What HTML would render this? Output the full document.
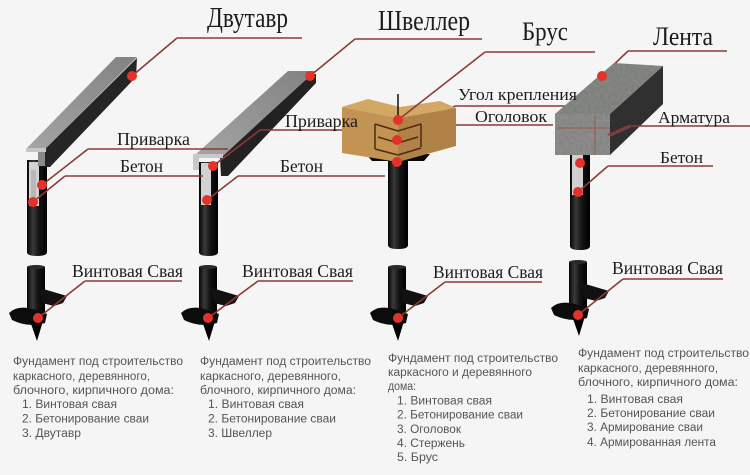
<!DOCTYPE html>
<html><head><meta charset="utf-8">
<style>
html,body{margin:0;padding:0;background:#f5f5f5;}
svg{display:block;}
.t{font-family:"Liberation Serif","Noto Serif CJK SC",serif;fill:#1c1c1c;}
.d{font-family:"Liberation Sans","Noto Sans CJK SC",sans-serif;fill:#555;font-size:11.5px;}
</style></head><body>
<svg width="750" height="475" viewBox="0 0 750 475" xmlns="http://www.w3.org/2000/svg">
<defs>
<linearGradient id="pg" x1="0" x2="1" y1="0" y2="0">
<stop offset="0" stop-color="#050505"/><stop offset="0.3" stop-color="#3a3a3a"/><stop offset="0.6" stop-color="#141414"/><stop offset="1" stop-color="#000"/>
</linearGradient>
<linearGradient id="fl" x1="0" x2="1" y1="1" y2="0">
<stop offset="0" stop-color="#a4a4a4"/><stop offset="1" stop-color="#828282"/>
</linearGradient>
<filter id="nz" x="0" y="0" width="1" height="1">
<feTurbulence type="fractalNoise" baseFrequency="0.35" numOctaves="2" seed="3" result="n"/>
<feColorMatrix in="n" type="matrix" values="0 0 0 0 0.45  0 0 0 0 0.45  0 0 0 0 0.44  0 0 0 0.5 0" result="c"/>
<feComposite in="c" in2="SourceGraphic" operator="in" result="m"/>
<feBlend in="m" in2="SourceGraphic" mode="multiply"/>
</filter>
<g id="screw">
<rect x="-9" y="0" width="18" height="54" fill="url(#pg)"/>
<ellipse cx="0" cy="0" rx="9" ry="2" fill="#2a2a2a"/>
<path d="M4,21 L31,29 L27,36 L18,39 L6,36 Z" fill="#111"/>
<path d="M-27,46 Q-18,37 0,43 L11,47 L9,56 Q-8,61 -24,53 Z" fill="#0c0c0c"/>
<path d="M-6,54 L7,54 L1,74 Z" fill="#000"/>
</g>
</defs>
<rect width="750" height="475" fill="#f5f5f5"/>

<!-- Column 1: I-beam -->
<path d="M27,160 h20 v92 q0,4 -10,4 q-10,0 -10,-4 z" fill="url(#pg)"/>
<rect x="29" y="162" width="10" height="44" fill="#d2d2d2"/>
<rect x="31" y="170" width="5" height="30" fill="#b8b8b8"/>
<polygon points="44,150 137,58 136,77 50,167 44,167" fill="#252525"/>
<polygon points="27,148 116,57 137,57 46,148" fill="url(#fl)"/>
<polygon points="26,148 46,148 46,152 26,152" fill="#c6c6c6"/>
<rect x="38" y="152" width="7" height="14" fill="#8a8a8a"/>

<!-- Column 2: channel -->
<path d="M199,162 h19 v90 q0,4 -9.5,4 q-9.5,0 -9.5,-4 z" fill="url(#pg)"/>
<rect x="201" y="163" width="10" height="42" fill="#d2d2d2"/>
<polygon points="220,158 312,74 316,74 316,83 228,176 221,176" fill="#222"/>
<polygon points="195,155 288,71 315,71 222,157" fill="url(#fl)"/>
<path d="M193,154 h30 v4 h-24 v12 h-6 z" fill="#c8c8c8"/>

<!-- Column 4: pile -->
<path d="M570,150 h20 v96 q0,4 -10,4 q-10,0 -10,-4 z" fill="url(#pg)"/>
<rect x="572" y="155" width="11" height="40" fill="#d0d0d0"/>

<!-- Column 3: pile + cap -->
<path d="M388,160 h20 v85 q0,4 -10,4 q-10,0 -10,-4 z" fill="url(#pg)"/>
<path d="M366,154 L430,154 L424,161 L372,161 Z" fill="#0a0a0a"/>

<!-- lower screw piles -->
<use href="#screw" x="36" y="267"/>
<use href="#screw" x="208" y="267"/>
<use href="#screw" x="397" y="267"/>
<use href="#screw" x="578" y="262"/>

<!-- connectors -->
<g stroke="#8c3b36" stroke-width="1.6" fill="none">
<path d="M177,38 H302 M177,38 L132,76"/>
<path d="M88,149 H228 M88,149 L42,185"/>
<path d="M65,176 H203 M65,176 L33,202"/>
<path d="M85,281 H182 M85,281 L38,318"/>
<path d="M355,39 H482 M355,39 L310,76"/>
<path d="M260,130 H378 M260,130 L213,166"/>
<path d="M238,176 H385 M238,176 L207,200"/>
<path d="M258,281 H353 M258,281 L208,318"/>
<path d="M455,106 H582 M455,106 L397,140"/>
<path d="M422,125 H553 M422,125 L397,162"/>
<path d="M445,282 H542 M445,282 L398,318"/>
<path d="M628,51 H727 M628,51 L602,76"/>
<path d="M608,166 H713 M608,166 L578,192"/>
<path d="M623,279 H723 M623,279 L578,315"/>
</g>

<!-- wood block -->
<polygon points="342,107 368,99 400,107 440,101 456,108 398,118" fill="#d2a864"/>
<polygon points="342,107 398,118 398,162 342,153" fill="#c39354"/>
<polygon points="398,118 456,108 456,146 398,162" fill="#b18248"/>
<g stroke="#4a2a10" stroke-width="1.5" fill="none">
<path d="M375,124 L398,131 L421,124"/>
<path d="M375,124 V149 M421,124 V147"/>
<path d="M378,137 L398,143 L418,137"/>
<path d="M375,149 L398,155 L421,148"/>
</g>
<line x1="398" y1="94" x2="398" y2="119" stroke="#111" stroke-width="1.5"/>

<!-- concrete block -->
<polygon points="555,114 614,63 663,66 610,114" fill="#8a8c88" filter="url(#nz)"/>
<polygon points="555,114 610,114 610,155 555,155" fill="#929290" filter="url(#nz)"/>
<polygon points="610,114 663,66 663,104 610,155" fill="#303030"/>
<g stroke="#a0554c" stroke-width="1.2" fill="none" opacity="0.8">
<path d="M557,128 H610"/><path d="M595,116 V155"/><path d="M610,136 L630,127"/>
</g>

<g stroke="#8c3b36" stroke-width="1.6" fill="none">
<path d="M485,52 H595 M485,52 L398,120"/>
<path d="M628,126 H750 M628,126 L608,135"/>
</g>

<!-- dots -->
<g fill="#e4322b">
<circle cx="132" cy="76" r="5"/><circle cx="42" cy="185" r="5"/><circle cx="33" cy="202" r="5"/><circle cx="38" cy="318" r="5"/>
<circle cx="310" cy="76" r="5"/><circle cx="213" cy="166" r="5"/><circle cx="207" cy="200" r="5"/><circle cx="208" cy="318" r="5"/>
<circle cx="398" cy="120" r="5"/><circle cx="397" cy="140" r="5"/><circle cx="397" cy="162" r="5"/><circle cx="398" cy="318" r="5"/>
<circle cx="602" cy="76" r="5"/><circle cx="580" cy="163" r="5"/><circle cx="578" cy="192" r="5"/><circle cx="578" cy="315" r="5"/>
</g>

<!-- labels -->
<text class="t" x="207" y="27" font-size="29" textLength="81" lengthAdjust="spacingAndGlyphs">Двутавр</text>
<text class="t" x="378" y="30" font-size="28" textLength="92" lengthAdjust="spacingAndGlyphs">Швеллер</text>
<text class="t" x="522" y="40" font-size="26" textLength="46" lengthAdjust="spacingAndGlyphs">Брус</text>
<text class="t" x="653" y="45" font-size="26" textLength="60" lengthAdjust="spacingAndGlyphs">Лента</text>

<text class="t" x="117" y="145" font-size="18" textLength="73" lengthAdjust="spacingAndGlyphs">Приварка</text>
<text class="t" x="120" y="172" font-size="18" textLength="43" lengthAdjust="spacingAndGlyphs">Бетон</text>
<text class="t" x="285" y="127" font-size="18" textLength="73" lengthAdjust="spacingAndGlyphs">Приварка</text>
<text class="t" x="280" y="172" font-size="18" textLength="43" lengthAdjust="spacingAndGlyphs">Бетон</text>
<text class="t" x="458" y="100" font-size="17" textLength="119" lengthAdjust="spacingAndGlyphs">Угол крепления</text>
<text class="t" x="475" y="122" font-size="17" textLength="72" lengthAdjust="spacingAndGlyphs">Оголовок</text>
<text class="t" x="658" y="123" font-size="17" textLength="72" lengthAdjust="spacingAndGlyphs">Арматура</text>
<text class="t" x="660" y="163" font-size="17" textLength="43" lengthAdjust="spacingAndGlyphs">Бетон</text>

<text class="t" x="72" y="277" font-size="18" textLength="111" lengthAdjust="spacingAndGlyphs">Винтовая Свая</text>
<text class="t" x="242" y="277" font-size="18" textLength="111" lengthAdjust="spacingAndGlyphs">Винтовая Свая</text>
<text class="t" x="433" y="278" font-size="18" textLength="110" lengthAdjust="spacingAndGlyphs">Винтовая Свая</text>
<text class="t" x="612" y="274" font-size="18" textLength="111" lengthAdjust="spacingAndGlyphs">Винтовая Свая</text>

<!-- descriptions col1 -->
<text class="d" x="13" y="365" textLength="170" lengthAdjust="spacingAndGlyphs">Фундамент под строительство</text>
<text class="d" x="13" y="380" textLength="137" lengthAdjust="spacingAndGlyphs">каркасного, деревянного,</text>
<text class="d" x="13" y="394" textLength="161" lengthAdjust="spacingAndGlyphs">блочного, кирпичного дома:</text>
<text class="d" x="22" y="408" textLength="95" lengthAdjust="spacingAndGlyphs">1. Винтовая свая</text>
<text class="d" x="22" y="422.5" textLength="127" lengthAdjust="spacingAndGlyphs">2. Бетонирование сваи</text>
<text class="d" x="22" y="437" textLength="59" lengthAdjust="spacingAndGlyphs">3. Двутавр</text>

<!-- col2 -->
<text class="d" x="200" y="365" textLength="171" lengthAdjust="spacingAndGlyphs">Фундамент под строительство</text>
<text class="d" x="200" y="380" textLength="141" lengthAdjust="spacingAndGlyphs">каркасного, деревянного,</text>
<text class="d" x="200" y="394" textLength="156" lengthAdjust="spacingAndGlyphs">блочного, кирпичного дома:</text>
<text class="d" x="208" y="408" textLength="96" lengthAdjust="spacingAndGlyphs">1. Винтовая свая</text>
<text class="d" x="208" y="422.5" textLength="128" lengthAdjust="spacingAndGlyphs">2. Бетонирование сваи</text>
<text class="d" x="208" y="437" textLength="64" lengthAdjust="spacingAndGlyphs">3. Швеллер</text>

<!-- col3 -->
<text class="d" x="388" y="362" textLength="170" lengthAdjust="spacingAndGlyphs">Фундамент под строительство</text>
<text class="d" x="388" y="376" textLength="144" lengthAdjust="spacingAndGlyphs">каркасного и деревянного</text>
<text class="d" x="388" y="390" textLength="28" lengthAdjust="spacingAndGlyphs">дома:</text>
<text class="d" x="397" y="404.5" textLength="95" lengthAdjust="spacingAndGlyphs">1. Винтовая свая</text>
<text class="d" x="397" y="418.5" textLength="126" lengthAdjust="spacingAndGlyphs">2. Бетонирование сваи</text>
<text class="d" x="397" y="433" textLength="64" lengthAdjust="spacingAndGlyphs">3. Оголовок</text>
<text class="d" x="397" y="447" textLength="68" lengthAdjust="spacingAndGlyphs">4. Стержень</text>
<text class="d" x="397" y="461" textLength="41" lengthAdjust="spacingAndGlyphs">5. Брус</text>

<!-- col4 -->
<text class="d" x="578" y="357" textLength="171" lengthAdjust="spacingAndGlyphs">Фундамент под строительство</text>
<text class="d" x="578" y="372" textLength="140" lengthAdjust="spacingAndGlyphs">каркасного, деревянного,</text>
<text class="d" x="578" y="386" textLength="160" lengthAdjust="spacingAndGlyphs">блочного, кирпичного дома:</text>
<text class="d" x="587" y="403" textLength="96" lengthAdjust="spacingAndGlyphs">1. Винтовая свая</text>
<text class="d" x="587" y="417" textLength="128" lengthAdjust="spacingAndGlyphs">2. Бетонирование сваи</text>
<text class="d" x="587" y="431" textLength="116" lengthAdjust="spacingAndGlyphs">3. Армирование сваи</text>
<text class="d" x="587" y="446" textLength="129" lengthAdjust="spacingAndGlyphs">4. Армированная лента</text>
</svg>
</body></html>
